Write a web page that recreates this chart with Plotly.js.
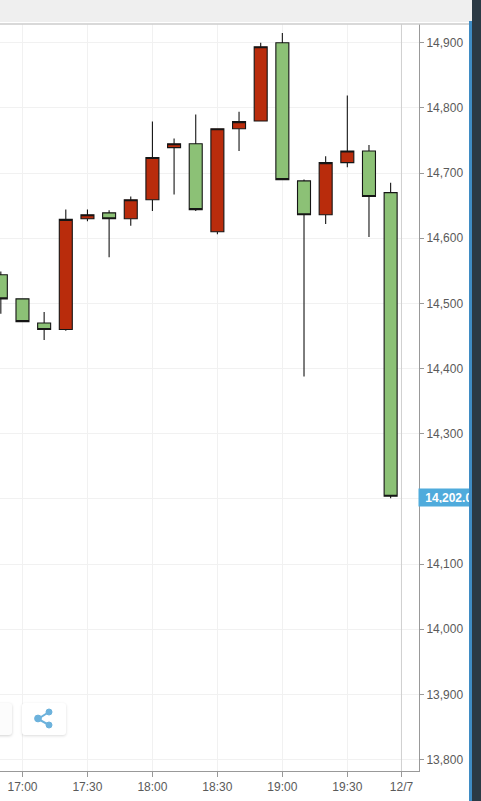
<!DOCTYPE html>
<html>
<head>
<meta charset="utf-8">
<script src="https://cdn.plot.ly/plotly-3.0.1.min.js"></script>
<style>
html,body{margin:0;padding:0;background:#fff;overflow:hidden;width:481px;height:801px}
#chart{position:absolute;left:0;top:0;width:481px;height:801px}
.ov{position:absolute;box-sizing:border-box}
</style>
</head>
<body>
<div id="chart"></div>
<div class="ov" style="left:0;top:0;width:472px;height:22px;background:#efefef"></div>
<div class="ov" style="left:469px;top:21px;width:3px;height:780px;background:#3f8cc4"></div>
<div class="ov" style="left:472px;top:0;width:9px;height:801px;background:#2b3a45"></div>
<div class="ov" style="left:-8px;top:703px;width:20px;height:32px;background:#fcfcfc;border-radius:3px;box-shadow:0 1px 3px rgba(0,0,0,.18)"></div>
<div class="ov" style="left:22px;top:703px;width:44px;height:32px;background:#fff;border-radius:3px;box-shadow:0 1px 3px rgba(0,0,0,.14)">
<svg width="44" height="32" viewBox="0 0 44 32"><g fill="#6cb2dc" stroke="#6cb2dc"><path d="M27 9 L16 16 L27 22" fill="none" stroke-width="2"/><circle cx="27" cy="9" r="3"/><circle cx="16" cy="15.5" r="3.4"/><circle cx="27" cy="22" r="3"/></g></svg>
</div>
<script>
var times = ['16:50','17:00','17:10','17:20','17:30','17:40','17:50','18:00','18:10','18:20','18:30','18:40','18:50','19:00','19:10','19:20','19:30','19:40','19:50'];
var opens = [14544,14507,14470,14460,14630,14639,14630,14659,14739,14745,14610,14768,14780,14900,14688,14636,14716,14734,14670];
var highs = [14549,14507,14487,14644,14644,14643,14664,14779,14753,14790,14769,14794,14900,14915,14690,14726,14819,14743,14685];
var lows  = [14484,14472,14444,14458,14626,14571,14619,14642,14667,14642,14606,14734,14780,14690,14388,14622,14709,14602,14201];
var closes= [14507,14472,14460,14629,14636,14630,14659,14724,14745,14644,14768,14779,14894,14690,14636,14716,14734,14664,14204];
var xTickTimes = ['17:00','17:30','18:00','18:30','19:00','19:30','19:55'];
var xTickLabels = ['17:00','17:30','18:00','18:30','19:00','19:30','12/7'];
var yTicks = [13800,13900,14000,14100,14200,14300,14400,14500,14600,14700,14800,14900];
var yTickLabels = ['13,800','13,900','14,000','14,100','','14,300','14,400','14,500','14,600','14,700','14,800','14,900'];
var lastPrice = 14202;
var lastLabel = '14,202.0';
var day = '2017-12-06 ';
function d(t){return day+t;}

var font = 'Arial, "Liberation Sans", sans-serif';
Plotly.newPlot('chart',[{
  type:'candlestick',
  x:times.map(d), open:opens, high:highs, low:lows, close:closes,
  increasing:{line:{color:'#151515',width:1.1},fillcolor:'#b92c0c'},
  decreasing:{line:{color:'#151515',width:1.1},fillcolor:'#8cc176'},
  whiskerwidth:0,
  hoverinfo:'skip'
}],{
  width:481,height:801,
  margin:{l:0,r:62,t:23.5,b:30,pad:0},
  paper_bgcolor:'#fff',plot_bgcolor:'#fff',
  showlegend:false,
  boxgap:0.4,boxgroupgap:0,
  font:{family:font,size:12,color:'#5a5a5a'},
  xaxis:{
    type:'date',
    range:[d('16:49:37'),d('20:03:06')],
    tickmode:'array',tickvals:xTickTimes.map(d),ticktext:xTickLabels,
    ticks:'outside',ticklen:5,tickcolor:'#999',tickwidth:1,
    showgrid:true,gridcolor:'#f1f1f1',gridwidth:1,
    showline:true,linecolor:'#999',linewidth:1,
    rangeslider:{visible:false},zeroline:false,fixedrange:true,
    tickfont:{family:font,size:12,color:'#5a5a5a'}
  },
  yaxis:{
    side:'right',
    range:[13782.4,14928.8],
    tickmode:'array',tickvals:yTicks,ticktext:yTickLabels,
    ticks:'outside',ticklen:4,tickcolor:'#999',tickwidth:1,
    showgrid:true,gridcolor:'#f1f1f1',gridwidth:1,
    showline:true,linecolor:'#999',linewidth:1,
    zeroline:false,fixedrange:true,
    tickfont:{family:font,size:12,color:'#5a5a5a'}
  },
  shapes:[
    {type:'line',xref:'x',yref:'paper',x0:d('19:55'),x1:d('19:55'),y0:0,y1:1,line:{color:'#cfcfcf',width:1}},
    {type:'line',xref:'paper',yref:'paper',x0:0,x1:1.2,y0:1,y1:1,line:{color:'#cccccc',width:1.5}}
  ],
  annotations:[{
    xref:'paper',yref:'y',x:1,y:lastPrice,xanchor:'left',yanchor:'middle',
    text:'&nbsp;<b>'+lastLabel+'</b>',showarrow:false,
    bgcolor:'#4fabdc',font:{family:font,size:12,color:'#fff'},
    width:60,height:11,borderpad:3,align:'left',xshift:-1
  }]
},{displayModeBar:false,staticPlot:true});
</script>
</body>
</html>
